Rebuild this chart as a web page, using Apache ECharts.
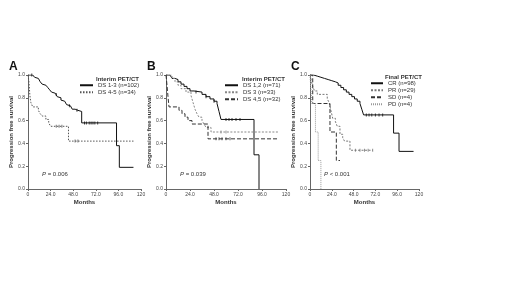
<!DOCTYPE html>
<html><head><meta charset="utf-8">
<script src="https://cdn.jsdelivr.net/npm/echarts@6/dist/echarts.min.js"></script>
<style>html,body{margin:0;padding:0;background:#fff}#c{width:520px;height:292px}</style>
</head><body><div id="c"></div>
<script>
// ---- data (months, survival) ----
const xTicks = [0, 24, 48, 72, 96, 120];
const yTicks = [0, 0.2, 0.4, 0.6, 0.8, 1.0];

const A_DS13 = [[0,1],[5,0.99],[7,0.98],[9,0.97],[11,0.96],[13,0.94],[15,0.92],[17,0.91],[19,0.90],[21,0.89],[23,0.87],[25,0.85],[27,0.84],[29,0.83],[31,0.81],[33,0.80],[35,0.78],[37,0.77],[39,0.76],[41,0.74],[43,0.73],[45,0.72],[47,0.70],[50,0.69],[53,0.68],[57,0.58],[94,0.38],[97,0.19],[112,0.19]];
const A_DS45 = [[0,1],[1,0.94],[1.5,0.88],[2,0.82],[3,0.76],[5,0.72],[11,0.69],[13,0.66],[15,0.64],[19,0.61],[22,0.58],[24,0.55],[43,0.42],[112,0.42]];
const A_DS13_cens = [[4,1],[30,0.83],[44,0.73],[52,0.69],[60,0.58],[62,0.58],[65,0.58],[67,0.58],[69,0.58],[71,0.58],[74,0.58]];
const A_DS45_cens = [[30,0.55],[33,0.55],[36,0.55],[50,0.42],[53,0.42]];

const B_DS12 = [[0,1],[4,0.99],[6,0.97],[9,0.96],[12,0.94],[15,0.92],[18,0.90],[21,0.88],[24,0.86],[28,0.85],[36,0.83],[40,0.81],[44,0.79],[48,0.77],[51,0.75],[53,0.68],[55,0.61],[88,0.30],[93,0.0]];
const B_DS3 = [[0,1],[6,0.97],[9,0.94],[12,0.91],[15,0.88],[20,0.85],[25,0.82],[27,0.76],[29,0.70],[31,0.66],[33,0.63],[36,0.60],[38,0.57],[40,0.54],[45,0.50],[112,0.50]];
const B_DS45 = [[0,1],[1,0.91],[2,0.81],[3,0.72],[13,0.69],[16,0.66],[19,0.63],[22,0.60],[26,0.57],[42,0.44],[112,0.44]];
const B_DS12_cens = [[30,0.85],[40,0.81],[48,0.77],[60,0.61],[63,0.61],[66,0.61],[70,0.61],[74,0.61]];
const B_DS3_cens = [[55,0.50],[60,0.50]];
const B_DS45_cens = [[50,0.44],[53,0.44],[56,0.44],[60,0.44],[64,0.44]];

const C_CR = [[0,1],[4,0.99],[8,0.98],[12,0.97],[16,0.96],[20,0.95],[24,0.94],[28,0.93],[31,0.91],[34,0.89],[37,0.87],[40,0.85],[43,0.83],[46,0.81],[49,0.79],[52,0.77],[55,0.75],[57,0.70],[59,0.65],[92,0.49],[98,0.33],[114,0.33]];
const C_PR = [[0,1],[1,0.97],[2,0.93],[3,0.90],[5,0.86],[8,0.83],[19,0.79],[21,0.76],[23,0.69],[25,0.62],[28,0.59],[30,0.55],[33,0.48],[36,0.45],[38,0.42],[44,0.34],[69,0.34]];
const C_SD = [[0,1],[3,0.75],[22,0.5],[29,0.25],[33,0.25]];
const C_PD = [[0,1],[2,0.75],[6,0.5],[9,0.25],[12,0]];
const C_CR_cens = [[62,0.65],[65,0.65],[68,0.65],[72,0.65],[76,0.65],[80,0.65]];
const C_PR_cens = [[50,0.34],[55,0.34],[60,0.34],[64,0.34],[69,0.34]];

const panels = [
  {letter:'A', left:28, width:113, title:'Interim PET/CT', p:'= 0.006', lx:79, tx:96, ty:76, iw:13,
   series:[{name:'DS 1-3 (n=102)', data:A_DS13, cens:A_DS13_cens, color:'#111', type:'solid'},
           {name:'DS 4-5 (n=34)', data:A_DS45, cens:A_DS45_cens, color:'#555', type:[1.5,1.5]}]},
  {letter:'B', left:166, width:120, title:'Interim PET/CT', p:'= 0.039', lx:224, tx:242, ty:76, iw:13,
   series:[{name:'DS 1,2 (n=71)', data:B_DS12, cens:B_DS12_cens, color:'#111', type:'solid'},
           {name:'DS 3 (n=33)', data:B_DS3, cens:B_DS3_cens, color:'#888', type:[2,1.5]},
           {name:'DS 4,5 (n=32)', data:B_DS45, cens:B_DS45_cens, color:'#333', type:[4,2]}]},
  {letter:'C', left:310, width:109, title:'Final PET/CT', p:'< 0.001', lx:370, tx:385, ty:74, iw:12,
   series:[{name:'CR (n=98)', data:C_CR, cens:C_CR_cens, color:'#111', type:'solid'},
           {name:'PR (n=29)', data:C_PR, cens:C_PR_cens, color:'#777', type:[2,1.5]},
           {name:'SD (n=4)', data:C_SD, cens:[], color:'#333', type:[4,2]},
           {name:'PD (n=4)', data:C_PD, cens:[], color:'#999', type:[1,1]}]}
];

const TOP = 75, H = 114;
const font = 'Arial, "Liberation Sans", sans-serif';
const option = {animation:false, grid:[], xAxis:[], yAxis:[], series:[], legend:[], graphic:[]};
panels.forEach((pn, i) => {
  option.grid.push({left:pn.left, top:TOP, width:pn.width, height:H});
  option.xAxis.push({type:'value', gridIndex:i, min:xTicks[0], max:xTicks[xTicks.length-1], interval:24,
    name:'Months', nameLocation:'middle', nameGap:10,
    nameTextStyle:{fontSize:6, fontWeight:'bold', color:'#333', fontFamily:font},
    axisLine:{lineStyle:{color:'#666', width:1}}, axisTick:{length:2, lineStyle:{color:'#666'}},
    axisLabel:{fontSize:5, color:'#444', margin:3, fontFamily:font,
      formatter:v => (v===0 ? '0' : v===120 ? '120' : v.toFixed(1))},
    splitLine:{show:false}});
  option.yAxis.push({type:'value', gridIndex:i, min:yTicks[0], max:yTicks[yTicks.length-1], interval:0.2,
    name:'Progression free survival', nameLocation:'middle', nameGap:10,
    nameTextStyle:{fontSize:6, fontWeight:'bold', color:'#333', fontFamily:font},
    axisLine:{show:true, lineStyle:{color:'#666', width:1}}, axisTick:{show:true, length:2, lineStyle:{color:'#666'}},
    axisLabel:{fontSize:5, color:'#444', margin:3, fontFamily:font, formatter:v => v.toFixed(1)},
    splitLine:{show:false}});
  pn.series.forEach(s => {
    option.series.push({type:'line', name:s.name, xAxisIndex:i, yAxisIndex:i, step:'end', data:s.data,
      symbol:'none', color:s.color, lineStyle:{color:s.color, width:1, type:s.type}});
    if (s.cens.length) option.series.push({type:'scatter', name:s.name+' censored', xAxisIndex:i, yAxisIndex:i,
      data:s.cens, symbol:'rect', symbolSize:[1,3], itemStyle:{color:s.color}});
  });
  option.legend.push({orient:'vertical', left:pn.lx, top:pn.ty+6, itemWidth:pn.iw, itemHeight:4, itemGap:0.5,
    data:pn.series.map(s=>s.name), selectedMode:false, padding:0,
    itemStyle:{opacity:0},
    textStyle:{fontSize:6, lineHeight:6.5, color:'#333', fontFamily:font}});
  option.graphic.push({type:'text', left:pn.tx, top:pn.ty, style:{text:pn.title, font:'bold 6px '+font, fill:'#333'}});
  option.graphic.push({type:'text', left:pn.left-19, top:61, style:{text:pn.letter, font:'bold 12px '+font, fill:'#111'}});
  option.graphic.push({type:'text', left:pn.left+14, top:171, style:{
    text:'{i|P} '+pn.p, rich:{i:{fontStyle:'italic', fontSize:6, fontFamily:font, fill:'#333'}}, font:'6px '+font, fill:'#333'}});
});
const chart = echarts.init(document.getElementById('c'), null, {renderer:'canvas'});
chart.setOption(option);
</script></body></html>
